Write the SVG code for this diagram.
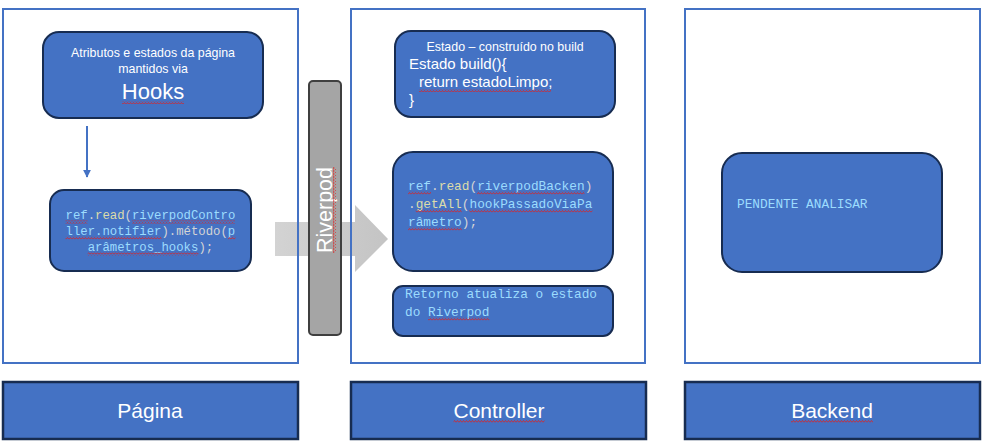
<svg xmlns="http://www.w3.org/2000/svg" width="994" height="447" viewBox="0 0 994 447">
  <defs>
    <style>
      .panel { fill: none; stroke: #4472C4; stroke-width: 2; }
      .box { fill: #4472C4; stroke: #172C51; stroke-width: 2; }
      .label { fill: #4472C4; stroke: #172C51; stroke-width: 2.5; }
      .sans { font-family: "Liberation Sans", Arial, sans-serif; fill: #FFFFFF; }
      .mono { font-family: "Liberation Mono", "DejaVu Sans Mono", monospace; }
      .v { fill: #9CDCFE; }
      .f { fill: #DCDCAA; }
      .p { fill: #D4D4D4; }
      .sq { fill: url(#squiggle); }
    </style>
    <pattern id="squiggle" width="3" height="3" patternUnits="userSpaceOnUse">
      <path d="M0 2.5 L1.5 0.5 L3 2.5" fill="none" stroke="#E02020" stroke-width="0.8"/>
    </pattern>
    <linearGradient id="grayArrow" x1="0" y1="0" x2="1" y2="0">
      <stop offset="0" stop-color="#D3D3D3"/>
      <stop offset="1" stop-color="#C4C4C4"/>
    </linearGradient>
    <marker id="arrowHead" viewBox="0 0 10 10" refX="9" refY="5" markerWidth="4" markerHeight="4" orient="auto" markerUnits="strokeWidth">
      <path d="M0 0 L10 5 L0 10 Z" fill="#4472C4"/>
    </marker>
  </defs>

  <rect width="994" height="447" fill="#FFFFFF"/>

  <!-- connectors -->
  <g id="connectors">
    <polygon id="riverpod-arrow" points="275,222 355,222 355,205 388,239 355,272 355,256 275,256" fill="url(#grayArrow)"/>
    <line x1="87" y1="126" x2="87" y2="177" stroke="#4472C4" stroke-width="2" marker-end="url(#arrowHead)"/>
  </g>

  <!-- panels -->
  <g id="panel-pagina"><rect class="panel" x="3" y="9" width="295" height="354"/></g>
  <g id="panel-controller"><rect class="panel" x="351" y="9" width="294" height="354"/></g>
  <g id="panel-backend"><rect class="panel" x="685" y="9" width="295" height="354"/></g>

  <!-- Riverpod bar -->
  <g id="riverpod-bar">
    <rect x="309" y="81" width="32" height="254" rx="4" fill="#A5A5A5" stroke="#3F3F3F" stroke-width="2"/>
    <g transform="translate(332,210) rotate(-90)">
      <text class="sans" x="0" y="0" text-anchor="middle" font-size="21.5">Riverpod</text>
      <rect class="sq" x="-43" y="1" width="86" height="3"/>
    </g>
  </g>

  <!-- Hooks box -->
  <g id="hooks">
    <rect class="box" x="43" y="32" width="220" height="86" rx="16"/>
    <text class="sans" x="153" y="57" text-anchor="middle" font-size="12.4">Atributos e estados da página</text>
    <text class="sans" x="153" y="73" text-anchor="middle" font-size="12.4">mantidos via</text>
    <text class="sans" x="153" y="99" text-anchor="middle" font-size="22">Hooks</text>
    <rect class="sq" x="122" y="101" width="62" height="3"/>
  </g>

  <!-- Page code box -->
  <g id="page-call">
    <rect class="box" x="50" y="190" width="201" height="81" rx="14"/>
    <text class="mono" font-size="12.3" x="65.5" y="219"><tspan class="v">ref</tspan><tspan class="p">.</tspan><tspan class="f">read</tspan><tspan class="p">(</tspan><tspan class="v">riverpodContro</tspan></text>
    <text class="mono" font-size="12.3" x="65.5" y="235"><tspan class="v">ller.notifier</tspan><tspan class="p">).método(</tspan><tspan class="v">p</tspan></text>
    <text class="mono" font-size="12.3" x="87.7" y="251"><tspan class="v">arâmetros_hooks</tspan><tspan class="p">);</tspan></text>
    <rect class="sq" x="65.5" y="220.5" width="22" height="3"/>
    <rect class="sq" x="132" y="220.5" width="103" height="3"/>
    <rect class="sq" x="65.5" y="236.5" width="96" height="3"/>
    <rect class="sq" x="228" y="236.5" width="7.4" height="3"/>
    <rect class="sq" x="87.7" y="252.5" width="110.7" height="3"/>
  </g>

  <!-- Controller state box -->
  <g id="controller-state">
    <rect class="box" x="395" y="31" width="220" height="86" rx="16"/>
    <text class="sans" x="505" y="51" text-anchor="middle" font-size="12.4">Estado – construído no build</text>
    <text class="sans" x="409" y="69" font-size="15">Estado build(){</text>
    <text class="sans" x="419" y="87" font-size="15">return estadoLimpo;</text>
    <text class="sans" x="409" y="105" font-size="15">}</text>
    <rect class="sq" x="419" y="89" width="132" height="3"/>
  </g>

  <!-- Controller call box -->
  <g id="controller-call">
    <rect class="box" x="393" y="152" width="220" height="119" rx="20"/>
    <text class="mono" font-size="12.8" x="408" y="190"><tspan class="v">ref</tspan><tspan class="p">.</tspan><tspan class="f">read</tspan><tspan class="p">(</tspan><tspan class="v">riverpodBacken</tspan><tspan class="p">)</tspan></text>
    <text class="mono" font-size="12.8" x="408" y="208"><tspan class="p">.</tspan><tspan class="f">getAll</tspan><tspan class="p">(</tspan><tspan class="v">hookPassadoViaPa</tspan></text>
    <text class="mono" font-size="12.8" x="408" y="226"><tspan class="v">râmetro</tspan><tspan class="p">);</tspan></text>
    <rect class="sq" x="408" y="191.5" width="23" height="3"/>
    <rect class="sq" x="477" y="191.5" width="107.5" height="3"/>
    <rect class="sq" x="415.7" y="209.5" width="46" height="3"/>
    <rect class="sq" x="469.4" y="209.5" width="123" height="3"/>
    <rect class="sq" x="408" y="227.5" width="53.8" height="3"/>
  </g>

  <!-- Controller return box -->
  <g id="controller-return">
    <rect class="box" x="393" y="286" width="220" height="50" rx="10"/>
    <text class="mono v" font-size="12.8" x="405" y="298">Retorno atualiza o estado</text>
    <text class="mono v" font-size="12.8" x="405" y="316">do Riverpod</text>
    <rect class="sq" x="428" y="317.5" width="61.4" height="3"/>
  </g>

  <!-- Backend box -->
  <g id="backend-pending">
    <rect class="box" x="722" y="153" width="220" height="119" rx="20"/>
    <text class="mono v" font-size="12.8" x="737" y="208">PENDENTE ANALISAR</text>
  </g>

  <!-- Bottom labels -->
  <g id="label-pagina">
    <rect class="label" x="3" y="382" width="295" height="57"/>
    <text class="sans" x="150" y="418" text-anchor="middle" font-size="21">Página</text>
  </g>
  <g id="label-controller">
    <rect class="label" x="351" y="382" width="295" height="57"/>
    <text class="sans" x="499" y="418" text-anchor="middle" font-size="21">Controller</text>
    <rect class="sq" x="453.5" y="420" width="91" height="3"/>
  </g>
  <g id="label-backend">
    <rect class="label" x="685" y="382" width="295" height="57"/>
    <text class="sans" x="832" y="418" text-anchor="middle" font-size="21">Backend</text>
    <rect class="sq" x="791" y="420" width="82" height="3"/>
  </g>
</svg>
